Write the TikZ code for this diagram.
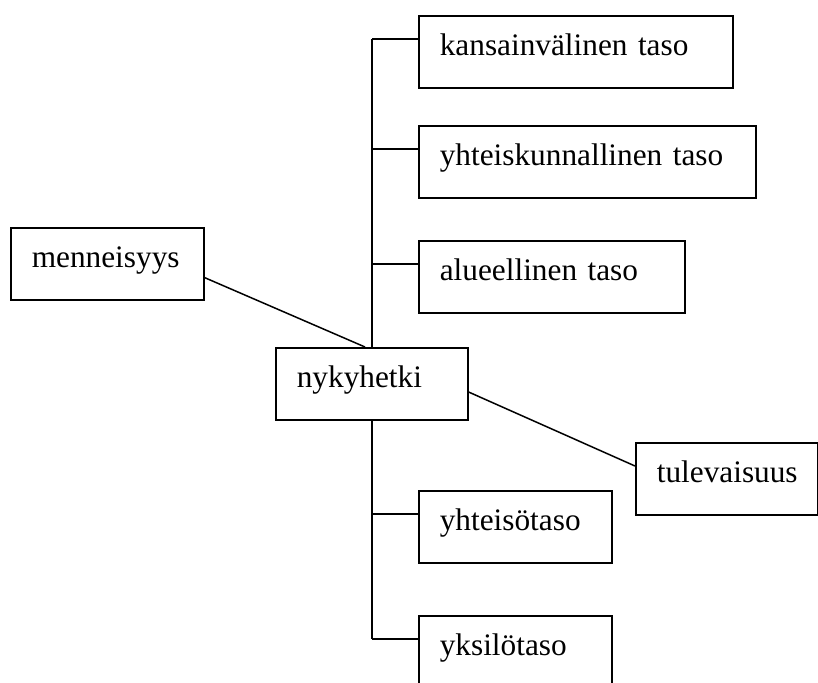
\documentclass[tikz,border=0pt]{standalone}
\usepackage{fontspec}
\setmainfont{Liberation Serif}
\usetikzlibrary{calc}
\begin{document}
\begin{tikzpicture}[x=1pt,y=-1pt,
  box/.style={draw, line width=1.6pt, anchor=north west, inner xsep=21pt, inner ysep=0pt,
    minimum height=72pt, text height=24pt, text depth=16pt, align=left,
    text width=#1, font=\fontsize{31.3}{36}\selectfont},
  conn/.style={line width=1.5pt}]
\useasboundingbox (0,0) rectangle (818,682);
\node[box=272pt] (kans) at (418,15) {kansainvälinen taso};
\node[box=295pt] (yht) at (418,125) {yhteiskunnallinen taso};
\node[box=224pt] (alue) at (418,240) {alueellinen taso};
\node[box=151pt] (menn) at (10,227) {menneisyys};
\node[box=150pt] (nyk) at (275,347) {nykyhetki};
\node[box=140pt] (tul) at (635,442) {tulevaisuus};
\node[box=151pt] (yhts) at (418,490) {yhteisötaso};
\node[box=151pt] (yks) at (418,615) {yksilötaso};
\coordinate (ttop) at (372,39);
\coordinate (tbot) at (372,639);
\draw[conn] (ttop) -- (ttop |- nyk.north);
\draw[conn] (ttop |- nyk.south) -- (tbot);
\foreach \b in {kans,yht,alue,yhts,yks}{
  \draw[conn] ($(\b.north west)+(0,24)$) coordinate (c\b) -- (c\b -| ttop);
}
\draw[conn] ($(menn.south east)+(0,-23)$) -- ($(nyk.north west)+(90,0)$);
\draw[conn] ($(nyk.north east)+(0,45)$) -- ($(tul.north west)+(0,24)$);
\end{tikzpicture}
\end{document}
